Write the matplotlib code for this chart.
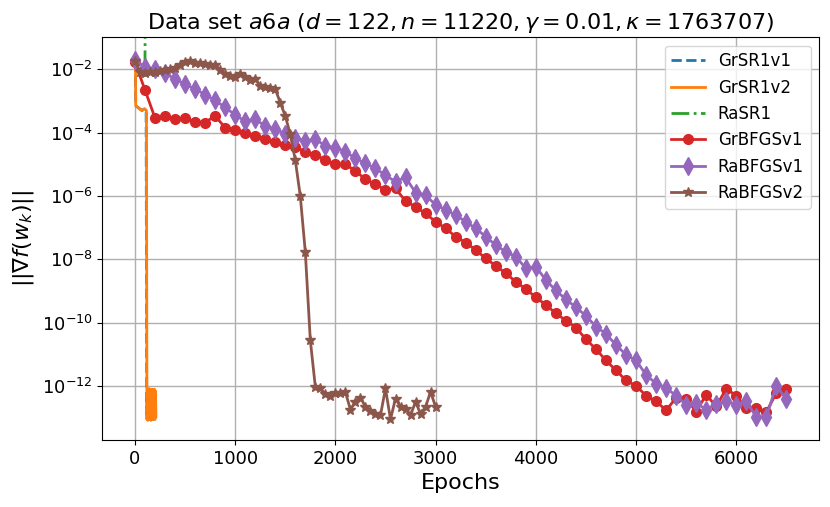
import numpy as np
import matplotlib
matplotlib.use("Agg")
import matplotlib.pyplot as plt

# log10 of ||grad f(w_k)||
gr_sr1v1_epochs = [0, 6, 8, 70, 95, 112, 118, 124, 130, 136, 142, 148, 154, 160,
                   166, 172, 178, 184, 190, 196, 202, 206]
gr_sr1v1_log = [-1.76, -2.0, -3.15, -3.3, -3.25, -3.3, -12.9, -12.2, -13.0, -12.15,
                -13.05, -12.1, -12.95, -12.2, -13.05, -12.15, -12.9, -12.1, -13.05,
                -12.2, -13.0, -12.3]

gr_sr1v2_epochs = [0, 6, 8, 70, 95, 115, 120, 125, 130, 135, 140, 145, 150, 155,
                   160, 165, 170, 175, 180, 185, 190, 195, 200, 205, 210]
gr_sr1v2_log = [-1.76, -2.0, -3.15, -3.3, -3.24, -3.3, -13.05, -12.1, -13.08, -12.12,
                -13.0, -12.08, -13.05, -12.1, -13.08, -12.15, -13.02, -12.1, -13.05,
                -12.12, -13.0, -12.1, -13.05, -12.15, -12.95]

ra_sr1_epochs = [0, 50, 100, 104]
ra_sr1_log = [-1.76, -2.1, -2.28, 1.0]

gr_bfgsv1_epochs = np.arange(0, 6501, 100)
gr_bfgsv1_log = [-1.76, -2.65, -3.53, -3.46, -3.57, -3.55, -3.65, -3.68, -3.47, -3.84,
                 -3.92, -4.02, -4.11, -4.2, -4.29, -4.4, -4.46, -4.6, -4.7, -4.86,
                 -5.0, -5.0, -5.21, -5.47, -5.63, -5.81, -5.76, -6.16, -6.34, -6.55,
                 -6.81, -7.02, -7.28, -7.47, -7.7, -7.97, -8.2, -8.44, -8.7, -8.94,
                 -9.19, -9.44, -9.7, -9.93, -10.15, -10.52, -10.83, -11.19, -11.5, -11.82,
                 -11.99, -12.3, -12.48, -12.76, -12.37, -12.4, -12.8, -12.27, -12.64, -12.08,
                 -12.3, -12.7, -12.68, -12.81, -12.22, -12.08]

ra_bfgsv1_epochs = np.arange(0, 6501, 100)
ra_bfgsv1_log = [-1.72, -1.92, -2.0, -2.13, -2.3, -2.47, -2.62, -2.8, -2.98, -3.2,
                 -3.44, -3.64, -3.56, -3.8, -3.87, -4.05, -4.16, -4.26, -4.2, -4.42,
                 -4.47, -4.6, -4.81, -4.97, -5.13, -5.34, -5.55, -5.41, -5.89, -5.97,
                 -6.28, -6.43, -6.6, -6.81, -7.02, -7.28, -7.55, -7.76, -7.91, -8.28,
                 -8.23, -8.65, -8.98, -9.26, -9.51, -9.78, -10.12, -10.35, -10.7, -11.01,
                 -11.19, -11.64, -11.92, -12.06, -12.3, -12.58, -12.53, -12.74, -12.55, -12.48,
                 -12.58, -12.48, -12.97, -12.97, -11.98, -12.42]

ra_bfgsv2_epochs = np.arange(0, 3001, 50)
ra_bfgsv2_log = [-1.74, -2.07, -2.13, -2.1, -2.07, -2.04, -2.02, -2.0, -1.97, -1.86,
                 -1.76, -1.73, -1.79, -1.81, -1.84, -1.86, -1.86, -2.02, -2.15, -2.21,
                 -2.23, -2.16, -2.25, -2.33, -2.3, -2.52, -2.56, -2.58, -2.62, -3.05,
                 -3.47, -4.05, -4.86, -6.0, -7.76, -10.55, -12.02, -12.07, -12.25, -12.32,
                 -12.21, -12.21, -12.18, -12.74, -12.49, -12.36, -12.65, -12.78, -12.88, -12.92,
                 -12.07, -13.05, -12.39, -12.65, -12.71, -12.92, -12.49, -12.88, -12.65, -12.18,
                 -12.65]

fig, ax = plt.subplots(figsize=(8.3, 5.07), dpi=100)
fig.subplots_adjust(left=0.1233, right=0.9867, top=0.9264, bottom=0.1321)

ax.plot(gr_sr1v1_epochs, 10.0 ** np.array(gr_sr1v1_log), '--', color='C0', lw=2, label='GrSR1v1')
ax.plot(gr_sr1v2_epochs, 10.0 ** np.array(gr_sr1v2_log), '-', color='C1', lw=2, label='GrSR1v2')
ax.plot(ra_sr1_epochs, 10.0 ** np.array(ra_sr1_log), '-.', color='C2', lw=2, label='RaSR1')
ax.plot(gr_bfgsv1_epochs, 10.0 ** np.array(gr_bfgsv1_log), '-o', color='C3', lw=2, ms=7,
        label='GrBFGSv1')
ax.plot(ra_bfgsv1_epochs, 10.0 ** np.array(ra_bfgsv1_log), '-d', color='C4', lw=2, ms=9,
        label='RaBFGSv1')
ax.plot(ra_bfgsv2_epochs, 10.0 ** np.array(ra_bfgsv2_log), '-*', color='C5', lw=2, ms=7,
        label='RaBFGSv2')

ax.set_yscale('log')
ax.set_ylim(10 ** -13.7, 10 ** -0.99)
ax.set_yticks([1e-12, 1e-10, 1e-8, 1e-6, 1e-4, 1e-2])
ax.minorticks_off()
ax.grid(True, color='#b0b0b0', lw=1)
ax.tick_params(labelsize=13)

ax.set_title(r'Data set $a6a$ ($d=122, n=11220, \gamma=0.01, \kappa=1763707$)', fontsize=16)
ax.set_xlabel('Epochs', fontsize=16)
ax.set_ylabel(r'$||\nabla f(w_k)||$', fontsize=16)
ax.legend(loc='upper right', fontsize=12)

fig.savefig('out.png', dpi=100)
